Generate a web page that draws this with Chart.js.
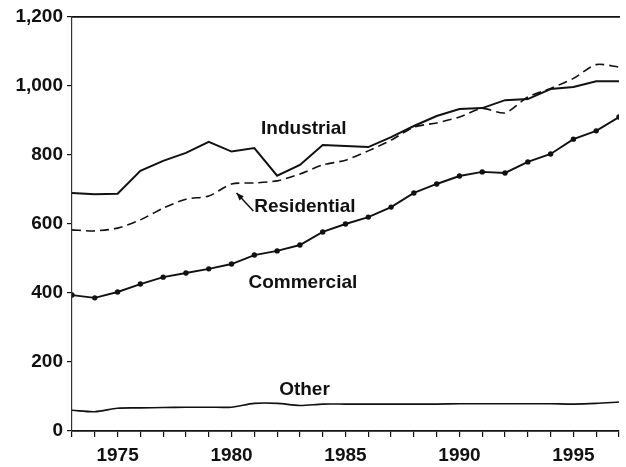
<!DOCTYPE html>
<html>
<head>
<meta charset="utf-8">
<script src="https://cdn.jsdelivr.net/npm/chart.js@4.4.0/dist/chart.umd.min.js"></script>
<style>
  html,body{margin:0;padding:0;background:#fff;}
  #wrap{width:626px;height:467px;}
</style>
</head>
<body>
<div id="wrap"><canvas id="chart" width="626" height="467"></canvas></div>
<script>
/* -------------------- Data -------------------- */
const years = [1973,1974,1975,1976,1977,1978,1979,1980,1981,1982,1983,1984,1985,
               1986,1987,1988,1989,1990,1991,1992,1993,1994,1995,1996,1997];
const industrial  = [690,686,688,754,783,806,838,810,820,740,771,829,826,823,852,884,913,933,936,959,962,991,997,1014,1014];
const residential = [583,580,588,612,646,672,681,716,719,725,745,771,785,812,843,881,893,910,935,922,968,993,1022,1062,1055];
const commercial  = [394,386,403,426,446,458,470,484,510,522,539,577,600,620,649,690,716,739,751,748,780,803,846,870,910];
const other       = [60,56,66,67,68,69,69,69,80,80,74,78,78,78,78,78,78,79,79,79,79,79,78,80,84];
const yTicks = [0,200,400,600,800,1000,1200];

// series names written inside the plot, anchored in data units
const seriesLabels = [
  {text:'Industrial',  x:1983.17, y:875},
  {text:'Residential', x:1983.22, y:651},
  {text:'Commercial',  x:1983.13, y:429},
  {text:'Other',       x:1983.2,  y:119}
];

/* -------------------- Helpers -------------------- */
const ink = '#111';
const FONT = 'Liberation Sans';
function pts(vals){ return years.map((y,i)=>({x:y, y:vals[i]})); }
function fmtThousands(v){ return Number(v).toLocaleString('en-US'); }

const labelPlugin = {
  id:'seriesLabels',
  afterDatasetsDraw(chart){
    const {ctx, scales:{x, y}} = chart;
    ctx.save();
    ctx.fillStyle = ink;
    ctx.font = `bold 19px "${FONT}"`;
    ctx.textAlign = 'center';
    ctx.textBaseline = 'middle';
    seriesLabels.forEach(l=> ctx.fillText(l.text, x.getPixelForValue(l.x), y.getPixelForValue(l.y)));

    // little arrow from "Residential" up to its line
    const x0 = x.getPixelForValue(1980.96), y0 = y.getPixelForValue(638);
    const x1 = x.getPixelForValue(1980.22), y1 = y.getPixelForValue(690);
    ctx.strokeStyle = ink; ctx.lineWidth = 1.5;
    ctx.beginPath(); ctx.moveTo(x0,y0); ctx.lineTo(x1,y1); ctx.stroke();
    const a = Math.atan2(y1-y0, x1-x0), h = 8;
    ctx.beginPath();
    ctx.moveTo(x1,y1);
    ctx.lineTo(x1 - h*Math.cos(a-0.38), y1 - h*Math.sin(a-0.38));
    ctx.lineTo(x1 - h*Math.cos(a+0.38), y1 - h*Math.sin(a+0.38));
    ctx.closePath(); ctx.fill();
    ctx.restore();
  }
};

/* -------------------- Chart -------------------- */
const lineBase = {borderColor:ink, borderWidth:1.9, pointRadius:0, fill:false};

new Chart(document.getElementById('chart'), {
  type:'line',
  data:{
    datasets:[
      {...lineBase, label:'Industrial',  data:pts(industrial), borderWidth:2},
      {...lineBase, label:'Residential', data:pts(residential), borderDash:[9,5], borderWidth:1.6, tension:0.25},
      {...lineBase, label:'Commercial',  data:pts(commercial), pointRadius:2.7, pointBackgroundColor:ink, pointBorderWidth:0},
      {...lineBase, label:'Other',       data:pts(other), borderWidth:1.6, tension:0.3}
    ]
  },
  options:{
    responsive:false,
    animation:false,
    layout:{padding:{left:0, right:1, top:0, bottom:0}},
    plugins:{legend:{display:false}, tooltip:{enabled:false}},
    scales:{
      x:{
        type:'linear', position:'bottom', min:1973, max:1997,
        afterFit(s){ s.height = 36; },
        ticks:{
          stepSize:1, autoSkip:false, maxRotation:0, padding:7, color:ink,
          font:{family:FONT, size:19, weight:'bold'},
          callback:v=> v%5===0 ? String(v) : ''
        },
        grid:{drawOnChartArea:false, drawTicks:true, tickLength:6, color:ink, lineWidth:1.2},
        border:{display:true, color:ink, width:1.8}
      },
      x2:{
        type:'linear', position:'top', min:1973, max:1997,
        afterFit(s){ s.height = 17; },
        ticks:{display:false},
        grid:{display:false},
        border:{display:true, color:ink, width:1.8}
      },
      y:{
        min:0, max:1200,
        afterFit(s){ s.width = 72; },
        afterBuildTicks(s){ s.ticks = yTicks.map(v=>({value:v})); },
        ticks:{padding:4, color:ink, font:{family:FONT, size:19, weight:'bold'}, callback:fmtThousands},
        grid:{drawOnChartArea:false, drawTicks:true, tickLength:5, color:ink, lineWidth:1.2},
        border:{display:true, color:'#333', width:1.2, dash:[9,4]}
      }
    }
  },
  plugins:[labelPlugin]
});
</script>
</body>
</html>
